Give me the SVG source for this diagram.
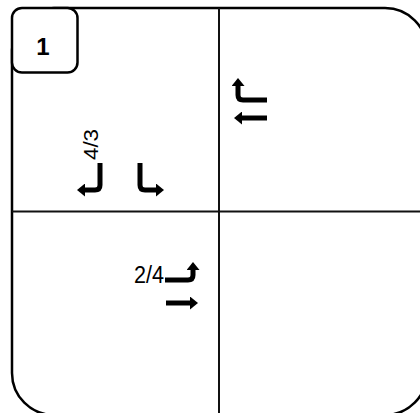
<svg xmlns="http://www.w3.org/2000/svg" width="420" height="413" viewBox="0 0 420 413">
<style>
.frame{fill:#fff;stroke:#000;stroke-width:2.5}
.grid{stroke:#111;stroke-width:2;fill:none}
.arr{fill:none;stroke:#000;stroke-width:5;stroke-linejoin:round}
.lbl{font-family:"Liberation Sans",Arial,sans-serif;fill:#000}
</style>
<defs>
<marker id="ah" markerUnits="userSpaceOnUse" markerWidth="9" markerHeight="13" refX="0.5" refY="6.5" orient="auto">
<path d="M0,0 L8,6.5 L0,13 z" fill="#000"/>
</marker>
</defs>
<rect class="frame" x="12" y="8" width="415" height="407" rx="42"/>
<g id="grid" class="grid">
<line x1="219" y1="8" x2="219" y2="415"/>
<line x1="12" y1="211.5" x2="427" y2="211.5"/>
</g>
<g id="label1">
<rect class="frame" x="12" y="8" width="65.5" height="64.5" rx="10" stroke-width="2"/>
<text class="lbl" x="43" y="55" font-size="24" font-weight="bold" text-anchor="middle">1</text>
</g>
<g id="connectors" class="arr" marker-end="url(#ah)">
<path d="M100,163 V185 Q100,190 95,190 H84.5"/>
<path d="M140,163 V185 Q140,190 145,190 H156.5"/>
<path d="M267,100 H243 Q238,100 238,95 V85.5"/>
<path d="M267,118 H241.5"/>
<path d="M165,280 H188 Q193,280 193,275 V269.5"/>
<path d="M166,303 H190.5"/>
</g>
<g id="labels">
<text class="lbl" font-size="20" transform="translate(98,160) rotate(-90)" textLength="31" lengthAdjust="spacingAndGlyphs">4/3</text>
<text class="lbl" x="134" y="283" font-size="23" textLength="30" lengthAdjust="spacingAndGlyphs">2/4</text>
</g>
</svg>
